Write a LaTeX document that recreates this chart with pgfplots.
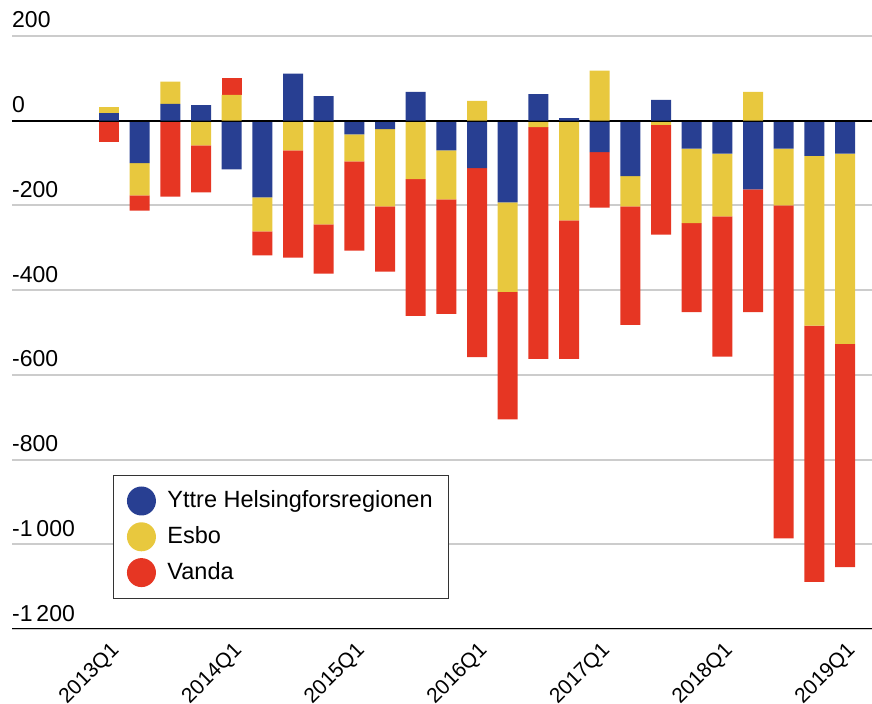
\documentclass[border=0pt]{standalone}
\usepackage{fontspec}
\setmainfont{Liberation Sans}
\usepackage{pgfplots}
\usepackage{pgfplotstable}
\pgfplotsset{compat=1.18}
\definecolor{cB}{HTML}{283F92}
\definecolor{cY}{HTML}{E8C83E}
\definecolor{cR}{HTML}{E63623}
\definecolor{cG}{HTML}{CCCCCC}

% negative parts (stacked downwards)
\pgfplotstableread{
x B Y R
0 0 0 -50
1 -100 -76 -36
2 0 0 -179
3 0 -58 -111
4 -115 0 0
5 -181 -80 -57
6 0 -70 -253
7 0 -245 -116
8 -32 -64 -211
9 -20 -182 -154
10 0 -138 -323
11 -70 -116 -270
12 -112 0 -446
13 -193 -211 -301
14 0 -15 -547
15 0 -235 -327
16 -74 0 -131
17 -131 -71 -280
18 0 -10 -259
19 -66 -176 -210
20 -78 -148 -331
21 -162 0 -290
22 -66 -134 -786
23 -83 -401 -605
24 -78 -449 -527
}\negdata

% positive parts (stacked upwards)
\pgfplotstableread{
x B Y R
0 18 14 0
1 0 0 0
2 40 52 0
3 37 0 0
4 0 61 40
5 0 0 0
6 111 0 0
7 58 0 0
8 0 0 0
9 0 0 0
10 68 0 0
11 0 0 0
12 0 47 0
13 0 0 0
14 63 0 0
15 6 0 0
16 0 118 0
17 0 0 0
18 49 0 0
19 0 0 0
20 0 0 0
21 0 68 0
22 0 0 0
23 0 0 0
24 0 0 0
}\posdata

\pgfplotsset{
  base/.style={
    scale only axis, width=860bp, height=593bp,
    xmin=-3.163, xmax=24.88, ymin=-1200, ymax=200,
    ybar stacked, bar width=0.652,
  },
}

\begin{document}
\fontsize{23bp}{27bp}\selectfont
\begin{tikzpicture}
\begin{axis}[base, name=main,
  font=\fontsize{23bp}{27bp}\selectfont,
  axis line style={draw=none},
  major tick length=0pt, tick style={draw=none},
  ymajorgrids, grid style={cG, line width=2bp},
  ytick={-1200,-1000,-800,-600,-400,-200,0,200},
  yticklabels={-1\,200,-1\,000,-800,-600,-400,-200,0,200},
  yticklabel style={anchor=base west, inner sep=0pt, yshift=8bp},
  xtick={0,4,8,12,16,20,24},
  xticklabels={2013Q1,2014Q1,2015Q1,2016Q1,2017Q1,2018Q1,2019Q1},
  xticklabel style={font=\fontsize{21bp}{25bp}\selectfont, inner sep=0pt, rotate=45, anchor=north east, xshift=-8bp, yshift=-8.8bp},
  legend cell align=left,
  legend image code/.code={\fill[#1] (14.5bp,0bp) circle (14.5bp);},
  legend style={at={(rel axis cs:0.1174,0.2597)}, anchor=north west,
    draw=black!80, line width=1bp, inner xsep=13.5bp, inner ysep=11bp,
    row sep=6.8bp, nodes={inner sep=2bp},
    /tikz/every odd column/.append style={column sep=9.5bp},
    font=\fontsize{23.5bp}{27bp}\selectfont},
]
\addplot[fill=cB, draw=none] table[x=x, y=B] {\negdata};
\addlegendentry{Yttre Helsingforsregionen}
\addplot[fill=cY, draw=none] table[x=x, y=Y] {\negdata};
\addlegendentry{Esbo}
\addplot[fill=cR, draw=none] table[x=x, y=R] {\negdata};
\addlegendentry{Vanda}
\end{axis}
\begin{axis}[base, hide axis]
\addplot[fill=cB, draw=none] table[x=x, y=B] {\posdata};
\addplot[fill=cY, draw=none] table[x=x, y=Y] {\posdata};
\addplot[fill=cR, draw=none] table[x=x, y=R] {\posdata};
\draw[black, line width=2.2bp] (axis cs:-3.163,0) -- (axis cs:24.88,0);
\draw[black, line width=2bp] (axis cs:-3.163,-1200) -- (axis cs:24.88,-1200);
\end{axis}
\pgfresetboundingbox
\path ([shift={(-12bp,-75bp)}]main.south west) rectangle ([shift={(0bp,36bp)}]main.north east);
\end{tikzpicture}
\end{document}
